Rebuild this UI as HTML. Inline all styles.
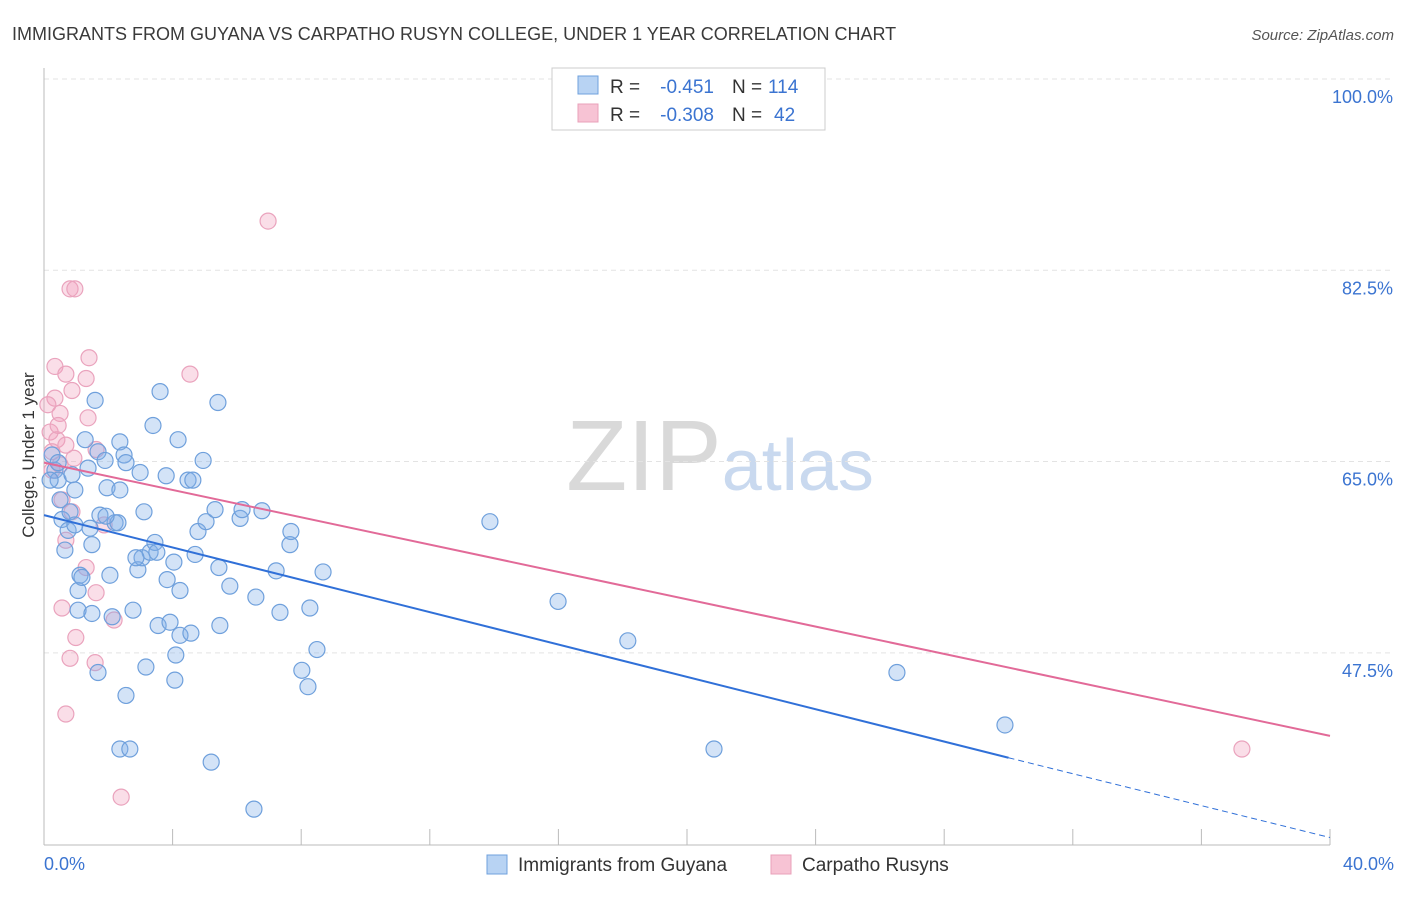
<!DOCTYPE html>
<html><head><meta charset="utf-8"><style>
body{margin:0;background:#fff;font-family:"Liberation Sans",sans-serif;}
svg text{font-family:"Liberation Sans",sans-serif;}
</style></head><body>
<svg id="chart" width="1406" height="892" xmlns="http://www.w3.org/2000/svg">
<text x="12" y="40" font-size="18" fill="#3a3a3a">IMMIGRANTS FROM GUYANA VS CARPATHO RUSYN COLLEGE, UNDER 1 YEAR CORRELATION CHART</text>
<text x="1394" y="40" font-size="15" fill="#555" text-anchor="end" font-style="italic">Source: ZipAtlas.com</text>
<text x="720" y="490" font-size="100" text-anchor="middle" fill="#ddd" font-family="Liberation Serif"><tspan fill="#d9d9d9">ZIP</tspan><tspan fill="#c9d9ef" font-family="Liberation Sans" font-size="72">atlas</tspan></text>
<g id="grid"></g>
<g id="axes"></g>
<g id="pts"></g>
<g id="trend"></g>
<text transform="translate(34,455) rotate(-90)" font-size="17" fill="#333" text-anchor="middle">College, Under 1 year</text>
<g>
<rect x="552" y="68" width="273" height="62" fill="#fff" stroke="#ccc"/>
<rect x="578" y="76" width="20" height="18" fill="#b8d3f3" stroke="#6fa0dc"/>
<rect x="578" y="104" width="20" height="18" fill="#f7c3d4" stroke="#e8a0ba"/>
<text x="610" y="93" font-size="19" fill="#333">R =</text>
<text x="714" y="93" font-size="19" fill="#3b74d1" text-anchor="end">-0.451</text>
<text x="732" y="93" font-size="19" fill="#333">N =</text>
<text x="768" y="93" font-size="19" fill="#3b74d1">114</text>
<text x="610" y="121" font-size="19" fill="#333">R =</text>
<text x="714" y="121" font-size="19" fill="#3b74d1" text-anchor="end">-0.308</text>
<text x="732" y="121" font-size="19" fill="#333">N =</text>
<text x="774" y="121" font-size="19" fill="#3b74d1">42</text>
</g>
<g>
<rect x="487" y="855" width="20" height="19" fill="#b8d3f3" stroke="#6fa0dc"/>
<text x="518" y="871" font-size="19" fill="#333">Immigrants from Guyana</text>
<rect x="771" y="855" width="20" height="19" fill="#f7c3d4" stroke="#e8a0ba"/>
<text x="802" y="871" font-size="19" fill="#333">Carpatho Rusyns</text>
</g>
</svg>
<script>
const blueX=[0.25,0.34,0.44,0.5,0.56,0.65,0.75,0.87,0.96,1.06,1.12,1.06,1.28,1.37,1.43,1.49,1.59,1.68,1.74,1.49,1.68,1.9,1.96,2.05,2.12,2.21,2.3,2.36,2.36,2.49,2.55,2.55,2.36,2.67,2.77,2.92,2.99,3.05,3.11,3.17,3.3,3.39,3.45,3.51,3.55,3.61,3.8,3.83,3.92,4.04,4.07,4.1,4.17,4.23,4.23,4.48,4.57,4.63,4.7,4.79,4.95,5.04,5.2,5.32,5.41,5.44,5.47,5.78,6.1,6.16,6.53,6.59,6.78,7.22,7.34,7.65,7.68,8.02,8.21,8.27,8.49,8.68,13.87,15.99,18.16,20.84,26.53,29.89,0.19,0.44,0.81,0.96,1.18,1.93,2.86];
const blueY=[65.6,64.2,63.3,61.5,59.7,56.9,58.7,63.8,62.4,53.2,54.6,51.4,67.0,64.4,58.9,57.4,70.6,65.9,60.1,51.1,45.7,65.1,62.6,54.6,50.8,59.4,59.4,62.4,66.8,65.6,64.9,43.6,38.7,38.7,51.4,55.1,64.0,56.2,60.4,46.2,56.7,68.3,57.6,56.7,50.0,71.4,63.7,54.2,50.3,55.8,45.0,47.3,67.0,49.1,53.2,63.3,49.3,63.3,56.5,58.6,65.1,59.5,37.5,60.6,70.4,55.3,50.0,53.6,59.8,60.6,33.2,52.6,60.5,55.0,51.2,57.4,58.6,45.9,44.4,51.6,47.8,54.9,59.5,52.2,48.6,38.7,45.7,40.9,63.3,64.9,60.4,59.2,54.4,60.0,56.2];
const pinkX=[6.97,0.81,0.96,1.4,0.34,0.68,1.31,4.54,0.87,0.34,0.12,0.5,1.37,0.19,0.4,0.68,0.25,0.93,0.5,1.62,0.56,0.87,1.87,0.68,1.31,1.62,0.56,2.18,0.99,0.81,1.59,0.68,2.4,37.26,0.25,0.44];
const pinkY=[87.0,80.8,80.8,74.5,73.7,73.0,72.6,73.0,71.5,70.8,70.2,69.4,69.0,67.7,67.0,66.5,65.9,65.3,64.7,66.1,61.5,60.4,59.2,57.8,55.3,53.0,51.6,50.5,48.9,47.0,46.6,41.9,34.3,38.7,64.2,68.3];
const yTicks=[100,82.5,65,47.5];
const blueTrend=[[0,60.1],[30,37.9],[40,30.6]];
const pinkTrend=[[0,64.9],[40,39.9]];
const X=v=>44+v*32.15, Y=v=>79+(100-v)*10.93;
const NS="http://www.w3.org/2000/svg";
function mk(p,t,a){const e=document.createElementNS(NS,t);for(const k in a)e.setAttribute(k,a[k]);p.appendChild(e);return e;}
const grid=document.getElementById('grid'),axes=document.getElementById('axes');
yTicks.forEach(t=>{const l=mk(grid,'line',{x1:44,x2:1394,y1:Y(t),y2:Y(t),stroke:'#e3e3e3','stroke-dasharray':'5,4'});


const tx=mk(axes,'text',{x:1393,y:Y(t)+24,'font-size':18,fill:'#3b74d1','text-anchor':'end'});tx.textContent=t.toFixed(1)+'%';

});
mk(axes,'line',{x1:44,x2:44,y1:68,y2:845,stroke:'#bbb'});
mk(axes,'line',{x1:44,x2:1330,y1:845,y2:845,stroke:'#bbb'});
for(let i=0;i<=10;i++){mk(axes,'line',{x1:X(i*4),x2:X(i*4),y1:829,y2:845,stroke:'#bbb'});}
const x0=mk(axes,'text',{x:44,y:870,'font-size':18,fill:'#3b74d1'});x0.textContent='0.0%';


const x1=mk(axes,'text',{x:1394,y:870,'font-size':18,fill:'#3b74d1','text-anchor':'end'});x1.textContent='40.0%';


const pts=document.getElementById('pts');
pinkX.forEach((v,i)=>{const c=mk(pts,'circle',{cx:X(v),cy:Y(pinkY[i]),r:8,fill:'rgba(242,160,190,0.35)',stroke:'#eaa3bd','stroke-width':1.2});

});
blueX.forEach((v,i)=>{const c=mk(pts,'circle',{cx:X(v),cy:Y(blueY[i]),r:8,fill:'rgba(130,175,232,0.35)',stroke:'#6fa0dc','stroke-width':1.2});

});
const tr=document.getElementById('trend');
const b1=mk(tr,'line',{x1:X(blueTrend[0][0]),y1:Y(blueTrend[0][1]),x2:X(blueTrend[1][0]),y2:Y(blueTrend[1][1]),stroke:'#3070d8','stroke-width':2});


const b2=mk(tr,'line',{x1:X(blueTrend[1][0]),y1:Y(blueTrend[1][1]),x2:X(blueTrend[2][0]),y2:Y(blueTrend[2][1]),stroke:'#3070d8','stroke-width':1,'stroke-dasharray':'6,4'});


const p1=mk(tr,'line',{x1:X(pinkTrend[0][0]),y1:Y(pinkTrend[0][1]),x2:X(pinkTrend[1][0]),y2:Y(pinkTrend[1][1]),stroke:'#e26a98','stroke-width':2});


</script>
</body></html>
